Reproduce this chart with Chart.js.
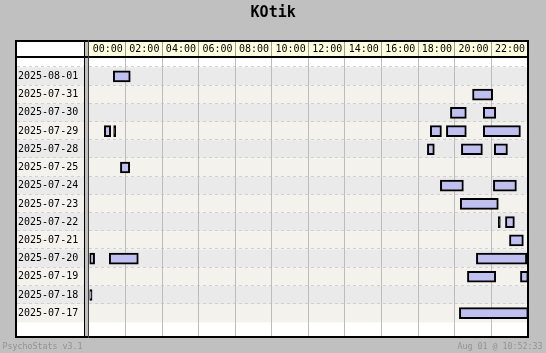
<!DOCTYPE html>
<html>
<head>
<meta charset="utf-8">
<script src="https://cdn.jsdelivr.net/npm/chart.js@4"></script>
<style>
  html, body { margin: 0; padding: 0; background: #c0c0c0; }
  canvas { display: block; }
</style>
</head>
<body>
<canvas id="c" width="546" height="353"></canvas>
<script>
const chartTitle = 'KOtik';
const footerLeft = 'PsychoStats v3.1';
const footerRight = 'Aug 01 @ 10:52:33';

const days = ['2025-08-01','2025-07-31','2025-07-30','2025-07-29','2025-07-28','2025-07-25','2025-07-24',
              '2025-07-23','2025-07-22','2025-07-21','2025-07-20','2025-07-19','2025-07-18','2025-07-17'];
const hourTicks = [0, 2, 4, 6, 8, 10, 12, 14, 16, 18, 20, 22];
const hourLabels = ['00:00','02:00','04:00','06:00','08:00','10:00','12:00','14:00','16:00','18:00','20:00','22:00'];

// sessions (hours of day)
const sessionDay = [
  '2025-08-01',
  '2025-07-31',
  '2025-07-30','2025-07-30',
  '2025-07-29','2025-07-29','2025-07-29','2025-07-29','2025-07-29',
  '2025-07-28','2025-07-28','2025-07-28',
  '2025-07-25',
  '2025-07-24','2025-07-24',
  '2025-07-23',
  '2025-07-22','2025-07-22',
  '2025-07-21',
  '2025-07-20','2025-07-20','2025-07-20',
  '2025-07-19','2025-07-19',
  '2025-07-18',
  '2025-07-17'
];
const sessionStart = [
  1.30,
  20.95,
  19.74, 21.54,
  0.81, 1.32, 18.64, 19.52, 21.54,
  18.48, 20.34, 22.14,
  1.69,
  19.19, 22.09,
  20.28,
  22.36, 22.75,
  22.97,
  0.00, 1.08, 21.16,
  20.67, 23.57,
  0.00,
  20.23
];
const sessionEnd = [
  2.23,
  22.05,
  20.61, 22.22,
  1.16, 1.43, 19.25, 20.61, 23.57,
  18.86, 21.49, 22.86,
  2.20,
  20.45, 23.35,
  22.36,
  22.47, 23.24,
  23.73,
  0.28, 2.67, 23.92,
  22.22, 24.00,
  0.14,
  24.00
];

const MONO = '"DejaVu Sans Mono", "Liberation Mono", monospace';

const framePlugin = {
  id: 'framePlugin',
  beforeDraw(chart) {
    const ctx = chart.ctx;
    const xs = chart.scales.x, ys = chart.scales.y;
    const W = chart.width, H = chart.height;
    const L = 15, T = 40, R = 529, B = 338;
    ctx.save();
    ctx.fillStyle = '#c0c0c0';
    ctx.fillRect(0, 0, W, H);
    ctx.fillStyle = '#ffffff';
    ctx.fillRect(L, T, R - L, B - T);
    // header
    ctx.fillStyle = '#ffffdf';
    ctx.fillRect(89, 42, R - 2 - 89, 14);
    // bands
    const rowH = ys.getPixelForValue(1) - ys.getPixelForValue(0);
    days.forEach((d, i) => {
      const yc = ys.getPixelForValue(i);
      const top = yc - rowH / 2;
      ctx.fillStyle = i % 2 === 0 ? '#eaeaea' : '#f4f2ed';
      ctx.fillRect(L + 2, top, R - L - 4, rowH);
    });
    // dashed row separators
    ctx.strokeStyle = '#d0d0d0';
    ctx.lineWidth = 1;
    ctx.setLineDash([3, 3]);
    days.forEach((d, i) => {
      const top = Math.round(ys.getPixelForValue(i) - rowH / 2) - 0.5;
      ctx.beginPath();
      ctx.moveTo(L + 2, top);
      ctx.lineTo(R - 2, top);
      ctx.stroke();
    });
    ctx.setLineDash([]);
    // vertical grid lines
    hourTicks.forEach(v => {
      if (v === 0) return;
      const px = Math.round(xs.getPixelForValue(v)) - 0.5;
      ctx.strokeStyle = '#bcbcbc';
      ctx.beginPath();
      ctx.moveTo(px, 58);
      ctx.lineTo(px, B - 2);
      ctx.stroke();
      ctx.strokeStyle = '#a0a0a0';
      ctx.beginPath();
      ctx.moveTo(px, 42);
      ctx.lineTo(px, 56);
      ctx.stroke();
    });
    // separator strip
    ctx.fillStyle = '#c0c0c0';
    ctx.fillRect(85, T, 3, B - T);
    ctx.restore();
  },
  afterDraw(chart) {
    const ctx = chart.ctx;
    const L = 15, T = 40, R = 529, B = 338;
    ctx.save();
    ctx.fillStyle = '#000000';
    ctx.fillRect(L, T, R - L, 2);
    ctx.fillRect(L, B - 2, R - L, 2);
    ctx.fillRect(L, T, 2, B - T);
    ctx.fillRect(R - 2, T, 2, B - T);
    ctx.fillRect(L, 56, R - L, 2);
    ctx.fillRect(84, T, 1, B - T);
    ctx.fillStyle = '#404040';
    ctx.fillRect(88, T, 1, B - T);
    // footer
    ctx.font = '8.3px ' + MONO;
    ctx.fillStyle = '#929292';
    ctx.textBaseline = 'middle';
    ctx.textAlign = 'left';
    ctx.fillText(footerLeft, 2.5, 347);
    ctx.textAlign = 'right';
    ctx.fillText(footerRight, 542.5, 347);
    ctx.restore();
  }
};

const sessionData = sessionDay.map((d, i) => ({ y: d, x: [sessionStart[i], sessionEnd[i]] }));

new Chart(document.getElementById('c'), {
  type: 'bar',
  data: {
    labels: days,
    datasets: [{
      data: sessionData,
      backgroundColor: c => {
        const r = c.raw;
        return (r && (r.x[1] - r.x[0]) < 0.12) ? '#000000' : '#c0c0f0';
      },
      borderColor: '#000000',
      borderWidth: 2,
      borderSkipped: false,
      barThickness: 11
    }]
  },
  options: {
    indexAxis: 'y',
    responsive: false,
    animation: false,
    devicePixelRatio: 1,
    events: [],
    layout: { padding: { left: 18, right: 17.7, top: 0, bottom: 30.7 } },
    plugins: {
      legend: { display: false },
      tooltip: { enabled: false },
      title: {
        display: true,
        text: chartTitle,
        color: '#000000',
        font: { family: MONO, size: 15, weight: 'bold' },
        padding: { top: 4.5, bottom: 17.5 }
      }
    },
    scales: {
      x: {
        type: 'linear',
        position: 'top',
        min: 0,
        max: 24,
        grid: { display: false, drawTicks: false, tickLength: 0 },
        border: { display: false },
        afterBuildTicks: s => { s.ticks = hourTicks.map(v => ({ value: v })); },
        afterFit: s => { s.height = 27.3; },
        ticks: {
          autoSkip: false,
          maxRotation: 0,
          minRotation: 0,
          padding: 12.3,
          labelOffset: 18.28,
          color: '#000000',
          font: { family: MONO, size: 10 },
          callback: (v, i) => hourLabels[i]
        }
      },
      y: {
        type: 'category',
        offset: true,
        grid: { display: false, drawTicks: false, tickLength: 0 },
        border: { display: false },
        afterFit: s => { s.width = 71.5; },
        ticks: {
          crossAlign: 'far',
          autoSkip: false,
          color: '#000000',
          font: { family: MONO, size: 10 }
        }
      }
    }
  },
  plugins: [framePlugin]
});
</script>
</body>
</html>
